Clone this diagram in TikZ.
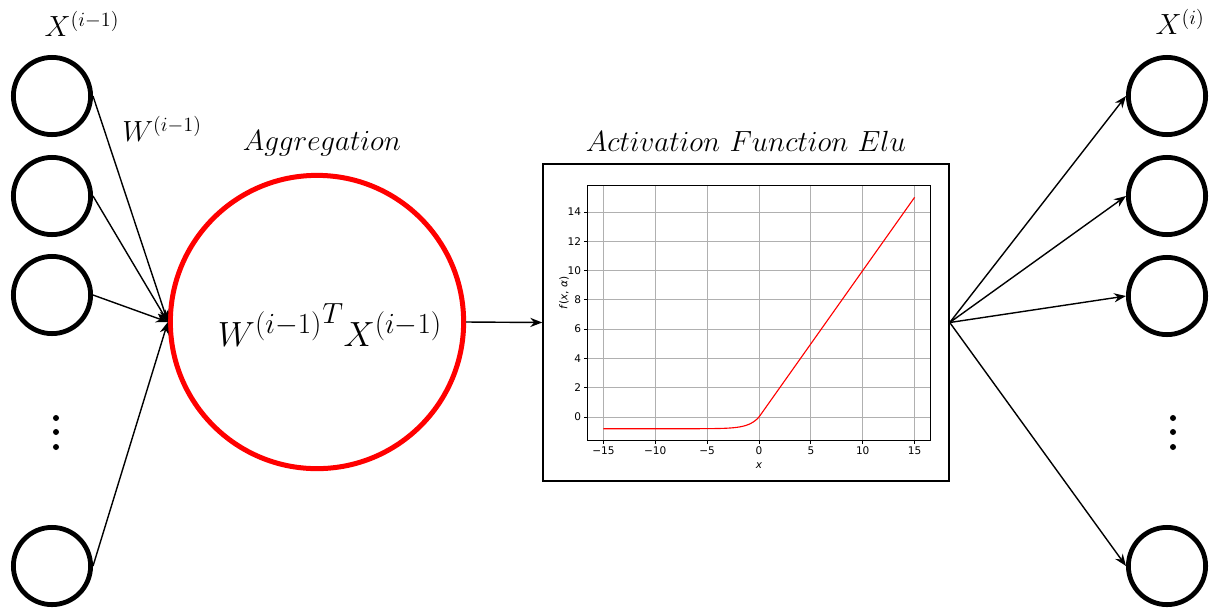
\documentclass[tikz,border=0pt]{standalone}
\usepackage{amsmath}
\usepackage{fontspec}
\newfontfamily\plotfont{DejaVu Sans}
\usetikzlibrary{arrows.meta}
\definecolor{gridgray}{HTML}{B0B0B0}

\begin{document}
\begin{tikzpicture}[x=0.025cm, y=-0.025cm, >={Stealth[length=8.5pt,width=6.5pt]},
    neuron/.style={circle, draw, line width=0.12cm, minimum size=1.93cm, inner sep=0pt},
    link/.style={->, line width=1pt},
    title/.style={font=\fontsize{22}{26}\selectfont},
    ticklabel/.style={font=\plotfont\fontsize{7.5}{9}\selectfont, inner sep=2pt}]
    \useasboundingbox (0,0) rectangle (1211,608);

    % input layer
    \node[neuron] (l1) at (52,96) {};
    \node[neuron] (l2) at (52,196) {};
    \node[neuron] (l3) at (52,295) {};
    \node[neuron] (ln) at (52,566) {};
    \foreach \dy in {418,432,447} \fill (56,\dy) circle[radius=0.075cm];
    \node[title] (xin) at (82,24) {$X^{(i-1)}$};
    \node[title] (win) at (162,129) {$W^{(i-1)}$};

    % aggregation
    \node[circle, draw=red, line width=0.125cm, minimum size=7.33cm] (agg) at (317,322) {};
    \node[font=\fontsize{28}{32}\selectfont] (aggtext) at (330,325) {${W^{(i-1)}}^{T}X^{(i-1)}$};
    \node[title] (aggtitle) at (322,143) {$Aggregation$};

    % activation
    \node[draw, line width=1pt, minimum width=10.15cm, minimum height=7.925cm] (act) at (746,322.5) {};
    \node[title] (acttitle) at (746,141) {$Activation\ Function\ Elu$};
    \begin{scope}[shift={(759,417)}, x=0.25925cm, y=0.366cm]
        \foreach \gx in {-15,-10,...,15}
            \draw[gridgray, line width=0.6pt] (\gx,-1.59) -- (\gx,15.79);
        \foreach \gy in {0,2,...,14}
            \draw[gridgray, line width=0.6pt] (-16.5,\gy) -- (16.5,\gy);
        \draw[red, line width=0.8pt] plot[domain=-15:0, samples=80] (\x,{0.8*(exp(\x)-1)}) -- (15,15);
        \draw[line width=0.6pt] (-16.5,-1.59) rectangle (16.5,15.79);
        \foreach \gx/\lab in {-15/−15,-10/−10,-5/−5,0/0,5/5,10/10,15/15}
            \draw[line width=0.6pt] (\gx,-1.59) -- ++(0pt,-0.09cm) node[below, ticklabel] {\lab};
        \foreach \gy in {0,2,...,14}
            \draw[line width=0.6pt] (-16.5,\gy) -- ++(-0.09cm,0pt) node[left, ticklabel] {\gy};
    \end{scope}
    \node[ticklabel] (xlab) at (759,466) {\textit{x}};
    \node[ticklabel, rotate=90] (ylab) at (564,293) {\textit{f}(\textit{x}, \textit{α})};

    % output layer
    \node[neuron] (r1) at (1167,96) {};
    \node[neuron] (r2) at (1167,196) {};
    \node[neuron] (r3) at (1167,296) {};
    \node[neuron] (rn) at (1167,566) {};
    \foreach \dy in {418,432,447} \fill (1173,\dy) circle[radius=0.075cm];
    \node[title] (xout) at (1180,22) {$X^{(i)}$};

    % connections
    \foreach \src in {l1,l2,l3,ln}
        \draw[link] (\src.east) -- (agg.west);
    \draw[link] (agg.east) -- (act.west);
    \foreach \dst in {r1,r2,r3,rn}
        \draw[link] (act.east) -- (\dst.west);
\end{tikzpicture}
\end{document}
